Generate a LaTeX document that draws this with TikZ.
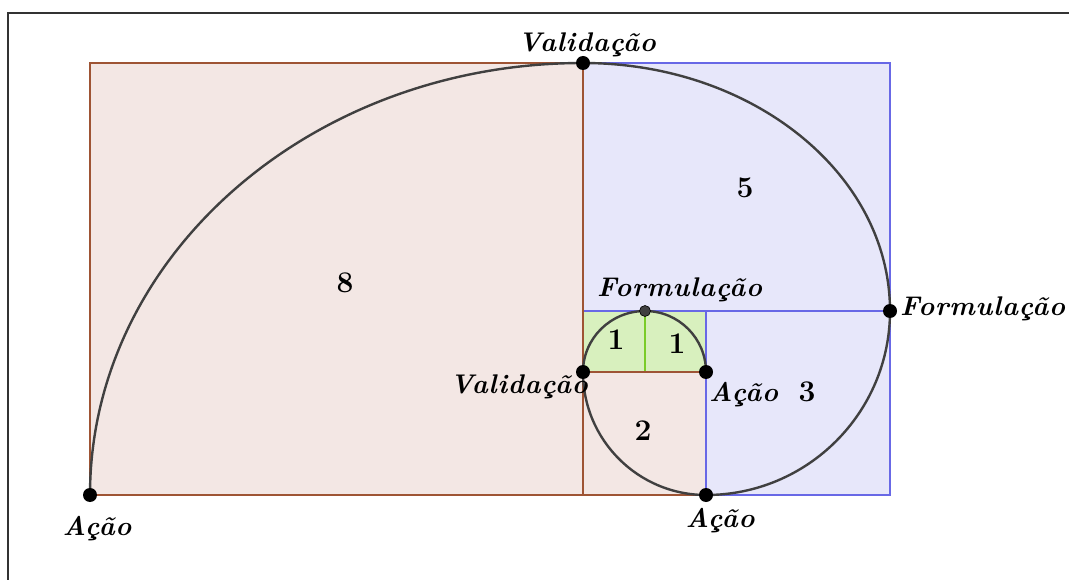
\documentclass[tikz,border=0pt]{standalone}
\usepackage{fontspec}
\setmainfont{Latin Modern Roman}
\definecolor{brownfill}{RGB}{243,231,228}
\definecolor{brownline}{RGB}{158,84,52}
\definecolor{bluefill}{RGB}{231,231,250}
\definecolor{blueline}{RGB}{104,104,230}
\definecolor{greenfill}{RGB}{216,240,190}
\definecolor{greenline}{RGB}{122,204,40}
\definecolor{spiral}{RGB}{64,64,64}
\tikzset{
  lab/.style={font=\fontsize{27}{30}\selectfont\bfseries\itshape\addfontfeatures{LetterSpace=3}, inner sep=0pt},
  num/.style={font=\fontsize{30}{32}\selectfont\bfseries, inner sep=0pt},
  sqline/.style={line width=2.2pt},
  spir/.style={draw=spiral, line width=2.4pt},
  dot/.style={circle, fill=black, inner sep=0pt, minimum size=14pt},
  sdot/.style={circle, fill=spiral, draw=black, line width=0.6pt, inner sep=0pt, minimum size=11pt},
  frame/.style={draw=black!80, line width=1.8pt}
}
\begin{document}
\begin{tikzpicture}[x=1pt,y=-1pt]
\useasboundingbox (0,0) rectangle (1069,580);
\fill[white] (0,0) rectangle (1069,580);
\draw[frame] (1069,13) -- (8,13) -- (8,580);
% fills
\fill[brownfill] (90,63) rectangle (583,495);
\fill[bluefill] (583,63) rectangle (890,311);
\fill[bluefill] (706,311) rectangle (890,495);
\fill[brownfill] (583,372) rectangle (706,495);
\fill[greenfill] (583,311) rectangle (706,372);
% borders
\draw[sqline, greenline] (583,311) rectangle (645,372);
\draw[sqline, greenline] (645,311) rectangle (706,372);
\draw[sqline, blueline] (583,63) rectangle (890,311);
\draw[sqline, brownline] (90,63) rectangle (583,495);
\draw[sqline, brownline] (583,372) rectangle (706,495);
\draw[sqline, blueline] (706,311) rectangle (890,495);
% spiral points
\coordinate (A1) at (90,495);
\coordinate (V1) at (583,63);
\coordinate (F1) at (890,311);
\coordinate (A2) at (706,495);
\coordinate (V2) at (583,372);
\coordinate (F2) at (645,311);
\coordinate (A3) at (706,372);
% spiral
\draw[spir] (A1) arc[start angle=180, end angle=90, x radius=493pt, y radius=432pt];
\draw[spir] (V1) arc[start angle=90, end angle=0, x radius=307pt, y radius=248pt];
\draw[spir] (F1) arc[start angle=0, end angle=-90, x radius=184pt, y radius=184pt];
\draw[spir] (A2) arc[start angle=-90, end angle=-180, x radius=123pt, y radius=123pt];
\draw[spir] (V2) arc[start angle=180, end angle=90, x radius=62pt, y radius=61pt];
\draw[spir] (F2) arc[start angle=90, end angle=0, x radius=61pt, y radius=61pt];
% dots
\node[dot] (dA1) at (A1) {};
\node[dot] (dV1) at (V1) {};
\node[dot] (dF1) at (F1) {};
\node[dot] (dA2) at (A2) {};
\node[dot] (dV2) at (V2) {};
\node[dot] (dA3) at (A3) {};
\node[sdot] (dF2) at (F2) {};
% labels
\node[lab, anchor=base] (tV1) at (587,52) {Validação};
\node[lab, anchor=base west] (tF2) at (597,297) {Formulação};
\node[lab, anchor=base west] (tF1) at (900,316) {Formulação};
\node[lab, anchor=base east] (tV2) at (588,393) {Validação};
\node[lab, anchor=base west] (tA3) at (709,401) {Ação};
\node[lab, anchor=base] (tA2) at (720,527) {Ação};
\node[lab, anchor=base] (tA1) at (97,535) {Ação};
% numbers
\node[num] (n8) at (345,283) {8};
\node[num] (n5) at (745,188) {5};
\node[num] (n1a) at (616,340) {1};
\node[num] (n1b) at (677,344) {1};
\node[num] (n2) at (643,431) {2};
\node[num] (n3) at (807,392) {3};
\end{tikzpicture}
\end{document}
